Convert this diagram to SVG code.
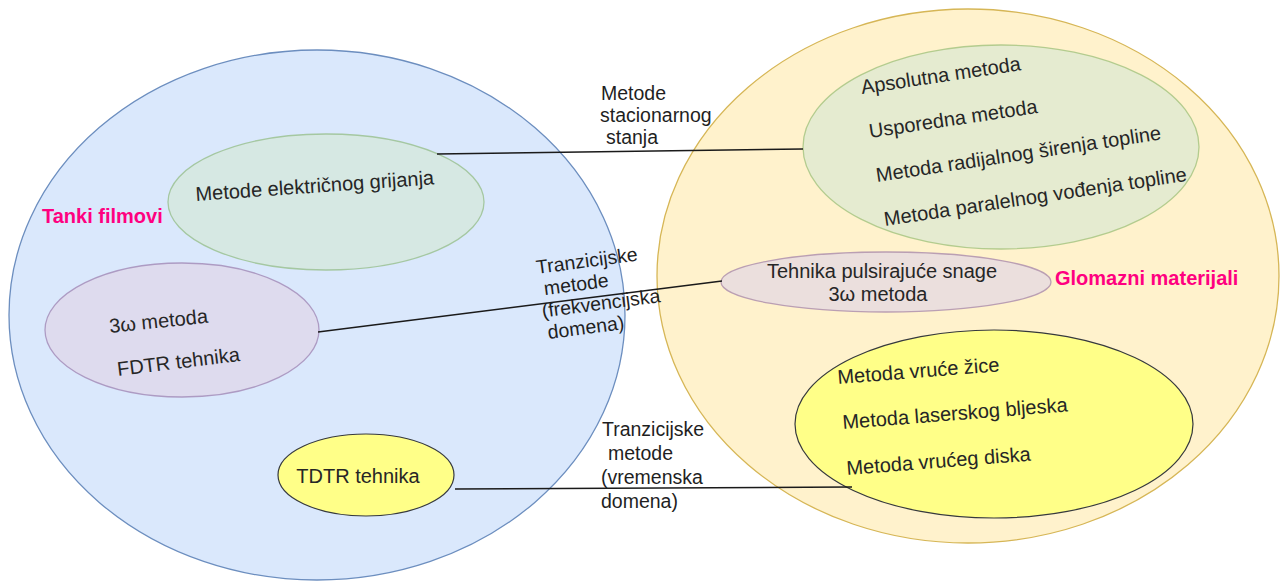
<svg xmlns="http://www.w3.org/2000/svg" width="1283" height="583" viewBox="0 0 1283 583">
<style>
text{font-family:"Liberation Sans",Arial,Helvetica,sans-serif;font-size:20px;fill:#262626}
.hdr{font-weight:bold;fill:#ff0080}
.lbl{font-size:19.5px;fill:#1f1f1f}
.blue{fill:#dae8fc;stroke:#6c8ebf;stroke-width:1.3}
.orange{fill:#fff2cc;stroke:#d6b656;stroke-width:1.3}
.green{fill:#d5e8d4;stroke:#82b366;stroke-width:1.3;opacity:0.6}
.purple{fill:#e1d5e7;stroke:#9673a6;stroke-width:1.3;opacity:0.65}
.yellow{fill:#ffff88;stroke:#36393d;stroke-width:1.2}
.edge{stroke:#1a1a1a;stroke-width:1.4;fill:none}
</style>
<rect width="1283" height="583" fill="#ffffff"/>
<g id="tanki-filmovi">
<ellipse class="blue" cx="317" cy="315" rx="308" ry="265"/>
<text class="hdr" x="42" y="223">Tanki filmovi</text>
</g>
<g id="glomazni-materijali">
<ellipse class="orange" cx="968" cy="276" rx="311" ry="267"/>
<text class="hdr" x="1055" y="285">Glomazni materijali</text>
</g>
<g id="elektricno-grijanje">
<ellipse class="green" cx="326" cy="202" rx="158" ry="68"/>
<text transform="translate(196,201) rotate(-4)">Metode električnog grijanja</text>
</g>
<g id="stacionarne-metode">
<ellipse class="green" cx="1001" cy="147" rx="198" ry="102"/>
<text transform="translate(862,94) rotate(-8.5)">Apsolutna metoda</text>
<text transform="translate(870,138) rotate(-8.5)">Usporedna metoda</text>
<text transform="translate(877,182) rotate(-8.5)">Metoda radijalnog širenja topline</text>
<text transform="translate(885,226) rotate(-8.5)">Metoda paralelnog vođenja topline</text>
</g>
<g id="frekvencijske-tanki">
<ellipse class="purple" cx="182" cy="330" rx="137" ry="67"/>
<text transform="translate(110,333) rotate(-6)">3ω metoda</text>
<text transform="translate(118,376) rotate(-7)">FDTR tehnika</text>
</g>
<g id="frekvencijske-glomazni">
<ellipse class="purple" cx="886" cy="282" rx="165" ry="30"/>
<text x="882" y="278" text-anchor="middle">Tehnika pulsirajuće snage</text>
<text x="878" y="301" text-anchor="middle">3ω metoda</text>
</g>
<g id="tdtr">
<ellipse class="yellow" cx="366" cy="475" rx="88" ry="41"/>
<text x="358" y="483" text-anchor="middle">TDTR tehnika</text>
</g>
<g id="vremenske-glomazni">
<ellipse class="yellow" cx="994" cy="424" rx="199" ry="94"/>
<text transform="translate(838,384) rotate(-4.5)">Metoda vruće žice</text>
<text transform="translate(843,429) rotate(-4.5)">Metoda laserskog bljeska</text>
<text transform="translate(847,475) rotate(-4.5)">Metoda vrućeg diska</text>
</g>
<g id="connectors">
<line class="edge" x1="437" y1="154" x2="803" y2="149"/>
<line class="edge" x1="318" y1="332" x2="722" y2="281"/>
<line class="edge" x1="455" y1="489" x2="852" y2="487"/>
<text class="lbl" x="601" y="100">Metode</text>
<text class="lbl" x="600" y="122">stacionarnog</text>
<text class="lbl" x="606" y="144">stanja</text>
<g transform="translate(537,274) rotate(-7.5)">
<text class="lbl" x="0" y="0">Tranzicijske</text>
<text class="lbl" x="5" y="22">metode</text>
<text class="lbl" x="0" y="44">(frekvencijska</text>
<text class="lbl" x="3" y="66">domena)</text>
</g>
<text class="lbl" x="602" y="436">Tranzicijske</text>
<text class="lbl" x="608" y="460">metode</text>
<text class="lbl" x="601" y="484">(vremenska</text>
<text class="lbl" x="601" y="508">domena)</text>
</g>
</svg>
